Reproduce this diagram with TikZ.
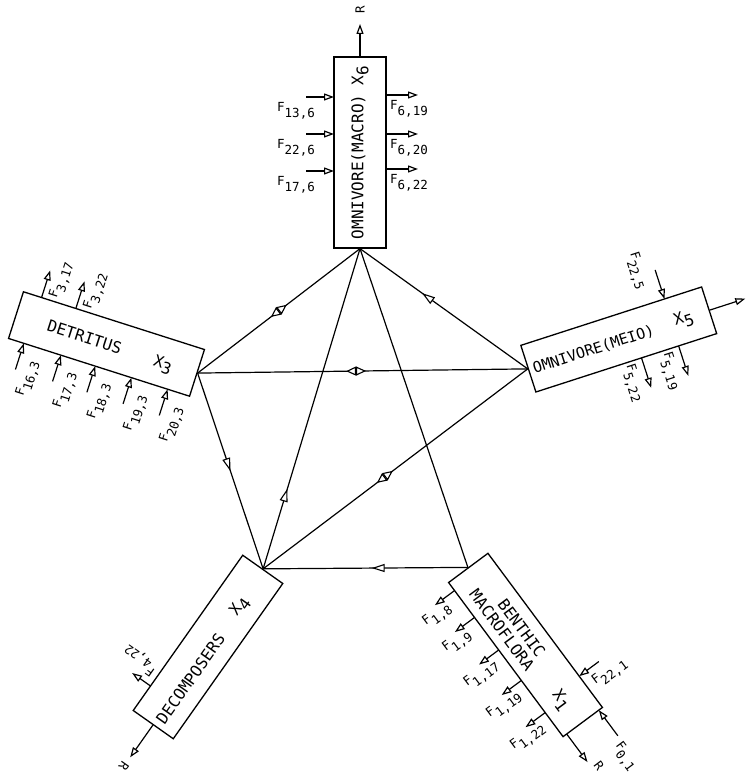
\documentclass[tikz,border=0pt]{standalone}
\usepackage{fontspec}
\newfontfamily\typew{DejaVu Sans Mono}
\usetikzlibrary{arrows.meta, decorations.markings}

\newcommand{\fl}[1]{F\raisebox{-6pt}{#1}}
\newcommand{\xs}[1]{X\raisebox{-5pt}{#1}}

\tikzset{
  box/.style={draw, line width=1.3pt, inner sep=0pt, minimum width=190pt, minimum height=49pt},
  boxtext/.style={font=\typew\fontsize{16}{17}\selectfont, inner sep=0pt},
  lab/.style={font=\typew\fontsize{12.5}{14}\selectfont, inner sep=0pt},
  flux/.style={line width=1.2pt, -{Triangle[open, length=10pt, width=7pt]}},
  link/.style={line width=1.2pt},
  oneway/.style={link, decoration={markings, mark=at position #1 with {\arrow{Triangle[fill=white, length=13pt, width=8pt, line width=1.1pt]}}}, postaction={decorate}},
  twoway/.style={link, decoration={markings, mark=at position #1 with {\pgftransformxshift{10pt}\arrow{Triangle[fill=white, length=10pt, width=9pt, line width=1.1pt]}\pgftransformxshift{-20pt}\arrowreversed{Triangle[fill=white, length=10pt, width=9pt, line width=1.1pt]}}}, postaction={decorate}}
}

\begin{document}
\begin{tikzpicture}[x=1pt, y=1pt]
  \useasboundingbox (0,0) rectangle (754,776);

  % Omnivore (macro), upright at the top
  \node[box, boxtext, minimum width=191pt, minimum height=52pt, rotate=90] (mac) at (360,623.5) {OMNIVORE(MACRO) \xs{6}};
  \draw[flux] (mac.east) -- (360,752) coordinate (mac-r);
  \node[lab, rotate=90] (mac-rl) at (360,766) {R};
  \foreach \y/\f [count=\i] in {679/{13,6}, 642/{22,6}, 605/{17,6}} {
    \draw[flux] (306,\y) -- (334,\y);
    \node[lab] (mac-in\i) at (296,{\y-14}) {\fl{\f}};
  }
  \foreach \y/\f [count=\i] in {681/{6,19}, 642/{6,20}, 607/{6,22}} {
    \draw[flux] (386,\y) -- (418,\y);
    \node[lab] (mac-out\i) at (409,{\y-14}) {\fl{\f}};
  }

  % Detritus
  \begin{scope}[shift={(106.5,432)}, rotate=-17.7, transform shape]
    \node[box] (det) at (0,0) {};
    \node[boxtext] (det-name) at (-23,0) {DETRITUS};
    \node[boxtext] (det-x) at (60,-3) {\xs{3}};
    \foreach \u/\f [count=\i] in {-76/{3,17}, -40/{3,22}} {
      \draw[flux] (\u,24.5) -- (\u,53);
      \node[lab, rotate=90] (det-out\i) at ({\u+14},47) {\fl{\f}};
    }
    \foreach \u/\f [count=\i] in {-79/{16,3}, -40/{17,3}, -4/{18,3}, 34/{19,3}, 72/{20,3}} {
      \draw[flux] (\u,-52) -- (\u,-24.5);
      \node[lab, rotate=90] (det-in\i) at ({\u+15},-57) {\fl{\f}};
    }
  \end{scope}

  % Omnivore (meio)
  \begin{scope}[shift={(618.75,436.5)}, rotate=17.9, transform shape]
    \node[box] (meio) at (0,0) {};
    \node[boxtext, font=\typew\fontsize{15}{17}\selectfont] (meio-name) at (-27,-2) {OMNIVORE(MEIO)};
    \node[boxtext] (meio-x) at (68,-1) {\xs{5}};
    \draw[flux] (meio.east) -- (133,0) coordinate (meio-r);
    \draw[flux] (56,55) -- (56,24.5);
    \node[lab, rotate=-90] (meio-in) at (38,60) {\fl{22,5}};
    \foreach \u/\f [count=\i] in {16/{5,22}, 55/{5,19}} {
      \draw[flux] (\u,-24.5) -- (\u,-56);
      \node[lab, rotate=-90] (meio-out\i) at ({\u-16},-46) {\fl{\f}};
    }
  \end{scope}

  % Decomposers
  \begin{scope}[shift={(208,129)}, rotate=54.8, transform shape]
    \node[box] (dec) at (0,0) {};
    \node[boxtext] (dec-name) at (-36,-4) {DECOMPOSERS};
    \node[boxtext] (dec-x) at (51,-3) {\xs{4}};
    \draw[flux] (-65,24.5) -- (-65,47);
    \node[lab, rotate=90] (dec-out) at (-50,48) {\fl{4,22}};
    \draw[flux] (dec.west) -- (-135,0) coordinate (dec-r);
    \node[lab, rotate=180] (dec-rl) at (-146,0) {R};
  \end{scope}

  % Benthic macroflora
  \begin{scope}[shift={(525.5,131)}, rotate=-53.4, transform shape]
    \node[box, minimum width=192pt] (ben) at (0,0) {};
    \node[boxtext] (ben-name1) at (-16,7) {BENTHIC};
    \node[boxtext] (ben-name2) at (-26,-10) {MACROFLORA};
    \node[boxtext] (ben-x) at (65,-5) {\xs{1}};
    \foreach \u/\f [count=\i] in {-86/{1,8}, -52.5/{1,9}, -12/{1,17}, 26/{1,19}, 66/{1,22}} {
      \draw[flux] (\u,-24.5) -- (\u,-49);
      \node[lab, rotate=90] (ben-out\i) at ({\u+10},-53) {\fl{\f}};
    }
    \draw[flux] (57,49) -- (57,24.5);
    \node[lab, rotate=90] (ben-in1) at (73,51) {\fl{22,1}};
    \draw[flux] (128,20) -- (96,20);
    \node[lab] (ben-in2) at (149,13) {\fl{0,1}};
    \draw[flux] (96,-20) -- (131,-20) coordinate (ben-r);
    \node[lab] (ben-rl) at (141,-13) {R};
  \end{scope}

  % Exchanges between compartments
  \draw[twoway=0.5] (mac.west) -- (det.east);
  \draw[oneway=0.63] (meio.west) -- (mac.west);
  \draw[oneway=0.25] (dec.east) -- (mac.west);
  \draw[link] (mac.west) -- (ben.west);
  \draw[twoway=0.48] (det.east) -- (meio.west);
  \draw[oneway=0.5] (det.east) -- (dec.east);
  \draw[twoway=0.54] (meio.west) -- (dec.east);
  \draw[oneway=0.47] (ben.west) -- (dec.east);
\end{tikzpicture}
\end{document}
